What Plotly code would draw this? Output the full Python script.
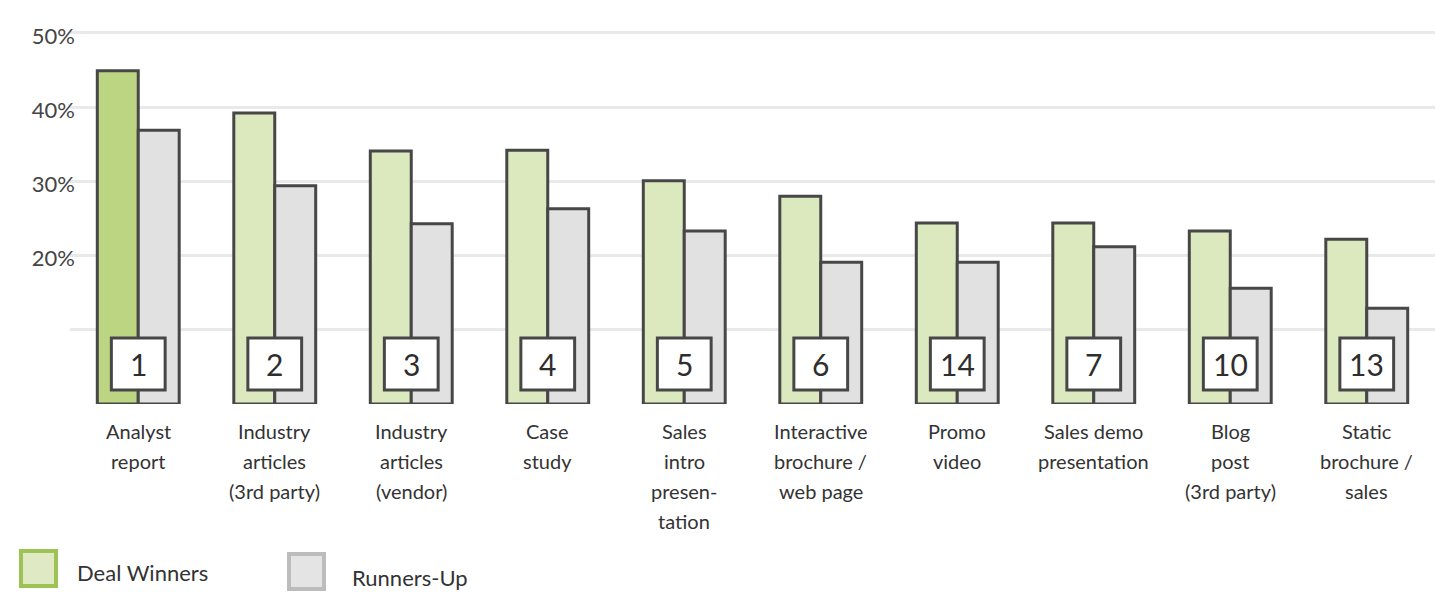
import plotly.graph_objects as go

categories = ["Analyst report", "Industry articles (3rd party)", "Industry articles (vendor)",
              "Case study", "Sales intro presentation", "Interactive brochure / web page",
              "Promo video", "Sales demo presentation", "Blog post (3rd party)", "Static brochure / sales"]
label_lines = [["Analyst", "report"], ["Industry", "articles", "(3rd party)"],
               ["Industry", "articles", "(vendor)"], ["Case", "study"],
               ["Sales", "intro", "presen-", "tation"], ["Interactive", "brochure /", "web page"],
               ["Promo", "video"], ["Sales demo", "presentation"], ["Blog", "post", "(3rd party)"],
               ["Static", "brochure /", "sales"]]
winners = [44.9, 39.2, 34.1, 34.2, 30.1, 28.0, 24.4, 24.4, 23.3, 22.2]
runners_up = [36.9, 29.4, 24.3, 26.3, 23.3, 19.1, 19.1, 21.2, 15.6, 12.9]
ranks = ["1", "2", "3", "4", "5", "6", "14", "7", "10", "13"]
y_tickvals = [0, 10, 20, 30, 40, 50]
y_ticktext = ["", "", "20%", "30%", "40%", "50%"]

FONT = "Lato"
OUTLINE = "#474747"
idx = list(range(len(categories)))

win_colors = ["#bcd583"] + ["#dce9bf"] * (len(categories) - 1)

fig = go.Figure()
fig.add_trace(go.Bar(x=idx, y=winners, name="Deal Winners",
                     marker=dict(color=win_colors, line=dict(color=OUTLINE, width=3))))
fig.add_trace(go.Bar(x=idx, y=runners_up, name="Runners-Up",
                     marker=dict(color="#e1e1e1", line=dict(color=OUTLINE, width=3))))

shapes = []
annotations = []
# rank boxes
for i, r in enumerate(ranks):
    shapes.append(dict(type="rect", xref="x", yref="y", x0=i - 0.197, x1=i + 0.197, y0=1.9, y1=8.9,
                       fillcolor="white", line=dict(color=OUTLINE, width=3), layer="above"))
    annotations.append(dict(x=i, y=5.4, xref="x", yref="y", text=r, showarrow=False,
                            font=dict(family=FONT, size=30, color="#2e2e2e")))
# category labels
for i, lines in enumerate(label_lines):
    for k, ln in enumerate(lines):
        annotations.append(dict(x=i, y=0, xref="x", yref="y", text=ln, showarrow=False,
                                yanchor="middle", yshift=-27 - 30 * k,
                                font=dict(family=FONT, size=20, color="#333")))

# custom legend (positions given in page pixels; page has an 8px body offset)
OFF = 8.0
L, T, W, H = 70.0, 30.0, 1365.0, 374.0
def px(xp): return (xp - L) / W
def py(yp): return (T + H - yp) / H

shapes.append(dict(type="rect", xref="paper", yref="paper", x0=px(21), x1=px(56), y0=py(586), y1=py(551),
                   fillcolor="#dfeac5", line=dict(color="#9dc255", width=4)))
shapes.append(dict(type="rect", xref="paper", yref="paper", x0=px(289), x1=px(324), y0=py(589), y1=py(554),
                   fillcolor="#e4e4e4", line=dict(color="#bcbcbc", width=4)))
annotations.append(dict(x=px(75), y=py(572), xref="paper", yref="paper", text="Deal Winners",
                        xanchor="left", yanchor="middle", showarrow=False,
                        font=dict(family=FONT, size=22, color="#333")))
annotations.append(dict(x=px(350), y=py(577), xref="paper", yref="paper", text="Runners-Up",
                        xanchor="left", yanchor="middle", showarrow=False,
                        font=dict(family=FONT, size=22, color="#333")))

FW, FH = 1443, 584
fig.update_layout(
    width=FW, height=FH,
    margin=dict(l=L - OFF, r=FW - (L + W - OFF), t=T - OFF, b=FH - (T + H - OFF)),
    paper_bgcolor="white", plot_bgcolor="white",
    barmode="group", bargap=0.4, bargroupgap=0,
    showlegend=False,
    shapes=shapes, annotations=annotations,
    xaxis=dict(tickvals=idx, ticktext=[""] * len(idx), showticklabels=False, showgrid=False,
               zeroline=False, showline=False, range=[-0.5, len(idx) - 0.5]),
    yaxis=dict(range=[0, 50.4], tickvals=y_tickvals, ticktext=y_ticktext,
               showgrid=True, gridcolor="#e9e9e9", gridwidth=3, zeroline=False, showline=False,
               tickfont=dict(family=FONT, size=22, color="#444"), ticklabelshift=3,
               ticklabelstandoff=-6),
)

fig.write_html("out.html")
